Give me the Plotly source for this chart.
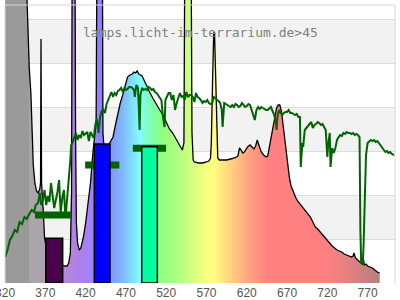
import plotly.graph_objects as go

# ---------------- data ----------------
# lamp spectrum (wavelength nm, relative intensity)
lamp_nm = [320, 345, 347, 348, 350, 352, 353.5, 355, 357, 359, 361, 363, 364, 364.6, 365.3, 366, 367.5, 369,
           372, 378, 385, 391, 394, 397, 399, 401, 402.5, 403.5, 406.5, 407.5, 408.5, 410, 412, 414, 417, 420,
           423, 426, 429, 431, 433, 434.5, 440.5, 441.5, 443, 447, 450, 454, 457, 460, 463, 466, 469, 472,
           475, 478, 480, 482, 484, 486, 488, 490, 493, 496, 500, 504, 508, 512, 516, 520, 524, 528, 532,
           536, 540, 542, 543.5, 550.5, 552, 553.5, 555, 560, 565, 570, 573, 575, 576, 577.5, 579, 580,
           581.5, 583, 584, 586, 590, 595, 600, 605, 609, 611, 613, 615, 617, 619, 621, 624, 627, 629, 631,
           633, 635, 638, 641, 644, 646, 649, 652, 655, 657, 659, 661, 663, 665, 667, 669, 671, 673, 675,
           678, 681, 684, 687, 690, 693, 696, 699, 702, 705, 708, 711, 714, 717, 720, 723, 726, 729, 732,
           735, 738, 741, 744, 747, 750, 752, 753, 755, 758, 761, 763, 765, 766, 768, 770, 773, 776, 779,
           782, 785]
lamp_val = [400, 400, 290, 255, 215, 190, 150, 118, 100, 92, 90, 94, 100, 244, 100, 92, 70, 45,
            32, 24, 20, 18, 17, 17, 20, 30, 90, 400, 400, 150, 60, 40, 33, 35, 45, 60,
            80, 100, 130, 143, 160, 400, 400, 150, 133, 136, 140, 146, 158, 171, 180, 188, 198, 206,
            208, 209, 211, 210, 212, 209, 208, 207, 202, 196, 190, 184, 178, 173, 168, 161, 154, 150, 144,
            138, 133, 140, 400, 400, 150, 123, 121, 120, 120, 121, 122, 125, 140, 200, 250, 250,
            200, 140, 125, 123, 123, 123, 124, 125, 127, 135, 133, 130, 131, 134, 136, 138, 136, 134, 137,
            143, 138, 131, 128, 126, 127, 140, 151, 168, 175, 178, 178, 172, 158, 143, 133, 118, 105, 97,
            90, 85, 81, 78, 75, 73, 70, 66, 61, 56, 54, 51, 48, 45, 43, 40, 37, 35, 33,
            32, 31, 29, 28, 27, 26, 27, 30, 25, 23, 21, 19, 23, 18, 19, 17, 16, 15, 13,
            11, 10]

# daylight reference spectrum
sun_nm = [320, 323, 326, 329, 332, 335, 338, 341, 344, 347, 350, 353, 356, 358, 361, 363, 365, 367, 369, 371,
          373, 375, 377, 379, 381, 383, 385, 387, 389, 391, 393, 395, 397, 399, 401, 402, 404, 406, 408, 410,
          412, 414, 416, 418, 420, 422, 424, 426, 428, 430, 432, 434, 436, 438, 440, 442, 444, 446, 448, 450,
          452, 454, 456, 458, 460, 462, 464, 466, 468, 470, 472, 474, 476, 478, 480, 481, 483, 485, 486, 487,
          488, 490, 492, 494, 496, 498, 500, 502, 504, 506, 508, 510, 512, 514, 516, 518, 519, 521, 523, 525,
          527, 529, 531, 533, 535, 537, 539, 541, 543, 545, 547, 549, 551, 553, 555, 557, 559, 561, 563, 565,
          567, 569, 571, 573, 575, 577, 579, 581, 583, 585, 587, 589, 590, 591, 592, 594, 596, 598, 600, 602,
          604, 606, 608, 610, 612, 614, 616, 618, 620, 622, 624, 626, 628, 630, 632, 634, 636, 638, 640, 642,
          644, 646, 648, 650, 652, 654, 656, 657, 658, 660, 662, 664, 666, 668, 670, 672, 674, 676, 678, 680,
          682, 684, 686, 687, 688, 689, 690, 692, 694, 696, 698, 700, 702, 704, 706, 708, 710, 712, 714, 716,
          718, 720, 721, 723, 724, 726, 728, 730, 732, 734, 736, 738, 740, 742, 744, 746, 748, 750, 752, 754,
          756, 758, 760, 761, 762, 763, 764, 765, 766, 767, 768, 770, 772, 774, 776, 778, 780, 782, 784, 786,
          788, 790, 792, 794, 796, 798, 800, 803]
sun_val = [26, 33, 43, 47, 53, 51, 61, 59, 66, 64, 69, 73, 71, 78, 80, 90, 78, 83, 93, 78,
           87, 81, 100, 88, 75, 83, 91, 103, 71, 85, 93, 65, 83, 98, 123, 138, 141, 146, 150, 143,
           148, 145, 152, 148, 150, 151, 142, 151, 148, 145, 158, 164, 150, 166, 172, 173, 170, 179, 183, 187,
           191, 186, 190, 188, 192, 193, 195, 191, 195, 193, 194, 196, 196, 195, 193, 186, 198, 195, 173, 153,
           188, 195, 193, 194, 193, 196, 195, 193, 194, 191, 190, 188, 186, 183, 166, 156, 183, 186, 190, 190,
           183, 188, 173, 180, 186, 190, 186, 187, 183, 191, 186, 188, 188, 186, 181, 190, 186, 185, 183, 180,
           182, 181, 183, 180, 179, 180, 186, 185, 183, 182, 180, 173, 156, 171, 180, 179, 178, 177, 176, 178,
           176, 179, 178, 176, 177, 180, 178, 176, 177, 179, 178, 173, 170, 163, 173, 176, 174, 176, 175, 174,
           173, 173, 175, 176, 172, 168, 161, 153, 166, 173, 170, 168, 170, 171, 171, 173, 170, 170, 169, 168,
           169, 166, 166, 116, 128, 140, 136, 153, 155, 157, 158, 161, 155, 158, 159, 161, 160, 158, 159, 155,
           153, 126, 138, 150, 116, 135, 130, 135, 143, 146, 148, 147, 150, 149, 151, 150, 150, 149, 150, 148,
           149, 148, 146, 53, 20, 25, 18, 38, 73, 100, 128, 140, 142, 143, 142, 143, 141, 142, 140, 138,
           136, 133, 131, 132, 130, 131, 129, 128]

# band bars (lamp) and daylight reference markers
band_center = [381, 440.5, 499.3]
band_width = [21, 19.5, 19.4]
band_lamp = [44.7, 139, 136.3]
band_colors = ["#4b004b", "#0000ff", "#00ff9e"]
ref_center = [379.5, 440.6, 499.2]
ref_width = [44.7, 42.5, 41.3]
ref_val = [68, 118, 134.7]

tick_vals = [320, 370, 420, 470, 520, 570, 620, 670, 720, 770]
tick_text = [str(v) for v in tick_vals]

# wavelength -> fill colour
grad_nm = [320, 349.8, 349.9, 370, 370.1, 392, 410, 430, 445, 455, 466, 478, 488, 496, 505, 515, 530,
           550, 570, 580, 592, 605, 620, 635, 648, 720, 750, 785]
grad_col = ["#9a9a9a", "#9a9a9a", "#aca4ac", "#aca4ac", "#b890d0", "#b48ad8", "#b080e8", "#a080ff",
            "#8080ff", "#80a0ff", "#80b8ff", "#80e0ff", "#80ffff", "#80ffc8", "#80ffa0", "#90ff80",
            "#a8ff80", "#d0ff80", "#f8ff80", "#ffff80", "#ffe080", "#ffc880", "#ffa880", "#ff9080",
            "#ff8080", "#ff8080", "#e08080", "#b08080"]

X0, X1 = 319.9, 804
Y1 = 283

# ---------------- figure ----------------
g0, g1 = grad_nm[0], grad_nm[-1]
colorscale = [[(n - g0) / (g1 - g0), c] for n, c in zip(grad_nm, grad_col)]

fig = go.Figure()

fig.add_trace(go.Scatter(
    x=lamp_nm, y=lamp_val, mode="lines",
    line=dict(color="black", width=1.3),
    fill="tozeroy",
    fillgradient=dict(type="horizontal", colorscale=colorscale, start=g0, stop=g1),
    hoverinfo="skip", showlegend=False))

mx, my = [], []
for c, w, v in zip(ref_center, ref_width, ref_val):
    mx += [c - w / 2, c + w / 2, None]
    my += [v, v, None]
fig.add_trace(go.Scatter(x=mx, y=my, mode="lines", line=dict(color="#006400", width=7),
                         hoverinfo="skip", showlegend=False))

for c, w, h, col in zip(band_center, band_width, band_lamp, band_colors):
    fig.add_trace(go.Scatter(
        x=[c - w / 2, c - w / 2, c + w / 2, c + w / 2, c - w / 2],
        y=[0, h, h, 0, 0], mode="lines", fill="toself", fillcolor=col,
        line=dict(color="black", width=1.5), hoverinfo="skip", showlegend=False))

fig.add_trace(go.Scatter(x=sun_nm, y=sun_val, mode="lines", line=dict(color="#006400", width=2),
                         hoverinfo="skip", showlegend=False))

shapes = []
for lo in [44, 132, 220]:
    shapes.append(dict(type="rect", xref="paper", yref="y", x0=0, x1=1, y0=lo, y1=lo + 44,
                       fillcolor="#f2f2f2", line=dict(width=0), layer="below"))
# frame
shapes.append(dict(type="line", xref="paper", yref="y", x0=0, x1=1, y0=278, y1=278,
                   line=dict(color="#d6d6d6", width=1), layer="above"))
shapes.append(dict(type="line", xref="paper", yref="y", x0=0, x1=0, y0=0, y1=278,
                   line=dict(color="#d6d6d6", width=1), layer="above"))
shapes.append(dict(type="line", xref="paper", yref="y", x0=1, x1=1, y0=0, y1=278,
                   line=dict(color="#d6d6d6", width=1), layer="above"))

fig.update_layout(
    width=400, height=300,
    margin=dict(l=5, r=5, t=0, b=17, autoexpand=False),
    paper_bgcolor="white", plot_bgcolor="white",
    shapes=shapes,
    showlegend=False,
    annotations=[dict(text="lamps.licht-im-terrarium.de>45", x=0.5, xref="paper", y=251, yref="y",
                      showarrow=False, font=dict(family="DejaVu Sans Mono", size=13, color="#808080"))],
    xaxis=dict(range=[X0, X1], tickvals=tick_vals, ticktext=tick_text, showgrid=False, zeroline=False,
               ticks="", showline=False, ticklabelstandoff=1, ticklabeloverflow="allow", automargin=False,
               tickfont=dict(family="Liberation Sans, Arial", size=12, color="#555555")),
    yaxis=dict(range=[0, Y1], tick0=0, dtick=44, showgrid=True, gridcolor="#dcdcdc", gridwidth=1,
               showticklabels=False, zeroline=False, ticks="", automargin=False),
)

fig.write_html("out.html")
